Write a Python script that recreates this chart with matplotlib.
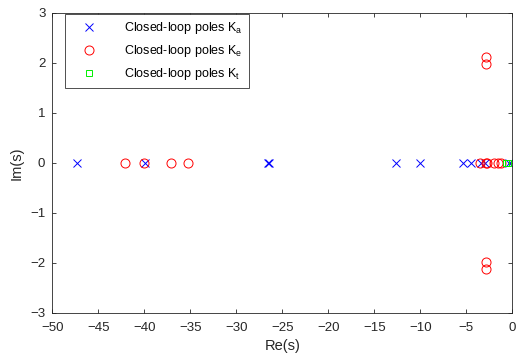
import matplotlib
matplotlib.use("Agg")
import matplotlib.pyplot as plt

plt.rcParams["font.family"] = ["Liberation Sans", "DejaVu Sans"]
plt.rcParams["mathtext.fontset"] = "custom"
plt.rcParams["mathtext.rm"] = "Liberation Sans"

# closed-loop poles (real, imag)
ka_re = [-47.3, -39.9, -26.5, -26.45, -12.6, -10.0, -5.4, -4.5, -3.4, -3.0, -0.4]
ka_im = [0, 0, 0, 0, 0, 0, 0, 0, 0, 0, 0]

ke_re = [-42.1, -40.0, -37.1, -35.3, -3.5, -2.9, -2.7, -2.0, -1.5, -1.2,
         -2.9, -2.9, -2.9, -2.9]
ke_im = [0, 0, 0, 0, 0, 0, 0, 0, 0, 0, 2.12, 1.98, -1.98, -2.12]

kt_re = [-0.7, -0.5]
kt_im = [0, 0]

x_ticks = list(range(-50, 1, 5))
y_ticks = list(range(-3, 4))

fig = plt.figure(figsize=(5.22, 3.58), dpi=100)
ax = fig.add_axes([0.1002, 0.1265, 0.8812, 0.8372])

ax.plot(ka_re, ka_im, "x", color="blue", markersize=6, markeredgewidth=0.7,
        linestyle="none", label=r"Closed-loop poles K$_\mathregular{a}$")
ax.plot(ke_re, ke_im, "o", color="red", markerfacecolor="none", markersize=6.5,
        markeredgewidth=0.7, linestyle="none",
        label=r"Closed-loop poles K$_\mathregular{e}$")
ax.plot(kt_re, kt_im, "s", color="#00ee00", markerfacecolor="none", markersize=5,
        markeredgewidth=0.7, linestyle="none",
        label=r"Closed-loop poles K$_\mathregular{t}$")

ax.set_xlim(-50, 0)
ax.set_ylim(-3, 3)
ax.set_xticks(x_ticks)
ax.set_yticks(y_ticks)
ax.tick_params(direction="in", top=True, right=True, labelsize=9.5, length=3,
               width=0.6, pad=5, colors="#262626")
ax.tick_params(axis="x", pad=7)
for s in ax.spines.values():
    s.set_linewidth(0.6)
    s.set_color("#262626")

ax.set_xlabel("Re(s)", fontsize=10.5, labelpad=3, color="#262626")
ax.set_ylabel("Im(s)", fontsize=10.5, labelpad=5, color="#262626")

leg = ax.legend(loc="upper left", bbox_to_anchor=(0.0276, 0.997), borderaxespad=0,
                fontsize=9, fancybox=False, edgecolor="#333333", framealpha=1,
                handletextpad=1.4, borderpad=0.5, labelspacing=0.55, handlelength=2.8)
leg.get_frame().set_linewidth(0.6)

fig.savefig("out.png", dpi=100)
